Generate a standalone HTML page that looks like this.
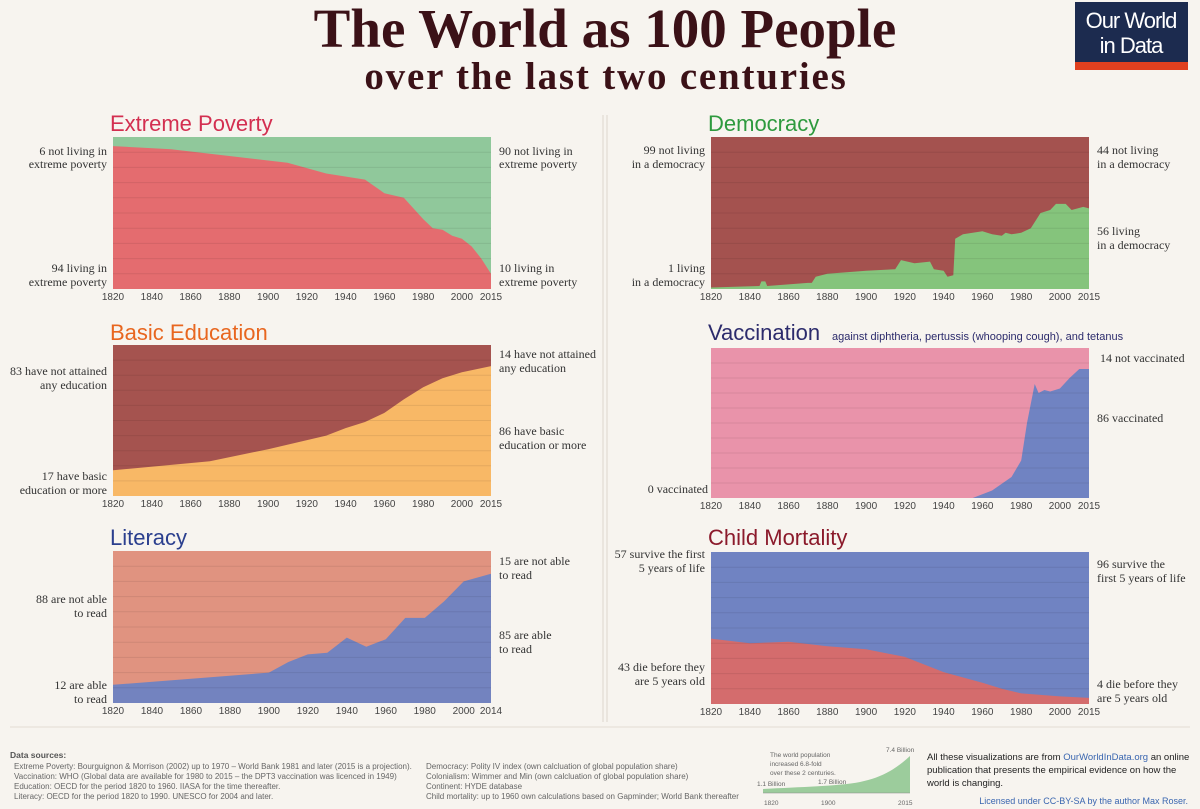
<!DOCTYPE html>
<html><head><meta charset="utf-8"><style>
html,body{margin:0;padding:0;background:#f7f4ef;}
svg{display:block;font-family:"Liberation Sans",sans-serif;}
.lab{font-family:"Liberation Serif",serif;font-size:12px;fill:#333;}
.tk{font-size:10px;fill:#444;}
.st{font-size:22px;}
.fs{font-size:8px;fill:#666;}
</style></head><body>
<svg width="1200" height="809" viewBox="0 0 1200 809" xmlns="http://www.w3.org/2000/svg">
<rect width="1200" height="809" fill="#f7f4ef"/>
<text x="605" y="47" text-anchor="middle" font-family="Liberation Serif,serif" font-weight="bold" font-size="55" fill="#3b1117">The World as 100 People</text>
<text x="606" y="89" text-anchor="middle" font-family="Liberation Serif,serif" font-weight="bold" font-size="39" letter-spacing="1.8" fill="#3b1117">over the last two centuries</text>
<rect x="1075" y="2" width="113" height="60" fill="#1c2b4f"/>
<rect x="1075" y="62" width="113" height="8" fill="#e0401f"/>
<text x="1131" y="28" text-anchor="middle" font-size="22" fill="#fff" letter-spacing="-1">Our World</text>
<text x="1131" y="53" text-anchor="middle" font-size="22" fill="#fff" letter-spacing="-1">in Data</text>
<line x1="603" y1="115" x2="603" y2="722" stroke="#ddd6cc" stroke-width="1"/>
<line x1="607" y1="115" x2="607" y2="722" stroke="#ddd6cc" stroke-width="1"/>
<line x1="10" y1="727" x2="1190" y2="727" stroke="#e3ddd3" stroke-width="1"/>
<g id="charts"></g>

<text x="110" y="131" class="st" fill="#d32f50">Extreme Poverty</text>
<text x="110" y="340" class="st" fill="#e8661f">Basic Education</text>
<text x="110" y="545" class="st" fill="#2b3f8e">Literacy</text>
<text x="708" y="131" class="st" fill="#2e9a3e">Democracy</text>
<text x="708" y="340" class="st" fill="#2c2b6c">Vaccination</text>
<text x="832" y="340" font-size="11" fill="#2c2b6c">against diphtheria, pertussis (whooping cough), and tetanus</text>
<text x="708" y="545" class="st" fill="#8b1a2b">Child Mortality</text>

<g class="lab">
<text x="107" y="155" text-anchor="end">6 not living in</text><text x="107" y="168" text-anchor="end">extreme poverty</text>
<text x="107" y="272" text-anchor="end">94 living in</text><text x="107" y="286" text-anchor="end">extreme poverty</text>
<text x="499" y="155">90 not living in</text><text x="499" y="168">extreme poverty</text>
<text x="499" y="272">10 living in</text><text x="499" y="286">extreme poverty</text>
<text x="107" y="375" text-anchor="end">83 have not attained</text><text x="107" y="389" text-anchor="end">any education</text>
<text x="107" y="480" text-anchor="end">17 have basic</text><text x="107" y="494" text-anchor="end">education or more</text>
<text x="499" y="358">14 have not attained</text><text x="499" y="372">any education</text>
<text x="499" y="435">86 have basic</text><text x="499" y="449">education or more</text>
<text x="107" y="603" text-anchor="end">88 are not able</text><text x="107" y="617" text-anchor="end">to read</text>
<text x="107" y="689" text-anchor="end">12 are able</text><text x="107" y="703" text-anchor="end">to read</text>
<text x="499" y="565">15 are not able</text><text x="499" y="579">to read</text>
<text x="499" y="639">85 are able</text><text x="499" y="653">to read</text>
<text x="705" y="154" text-anchor="end">99 not living</text><text x="705" y="168" text-anchor="end">in a democracy</text>
<text x="705" y="272" text-anchor="end">1 living</text><text x="705" y="286" text-anchor="end">in a democracy</text>
<text x="1097" y="154">44 not living</text><text x="1097" y="168">in a democracy</text>
<text x="1097" y="235">56 living</text><text x="1097" y="249">in a democracy</text>
<text x="708" y="493" text-anchor="end">0 vaccinated</text>
<text x="1100" y="362">14 not vaccinated</text>
<text x="1097" y="422">86 vaccinated</text>
<text x="705" y="558" text-anchor="end">57 survive the first</text><text x="705" y="572" text-anchor="end">5 years of life</text>
<text x="705" y="671" text-anchor="end">43 die before they</text><text x="705" y="685" text-anchor="end">are 5 years old</text>
<text x="1097" y="568">96 survive the</text><text x="1097" y="582">first 5 years of life</text>
<text x="1097" y="688">4 die before they</text><text x="1097" y="702">are 5 years old</text>
</g>

<text x="10" y="758" font-size="8.5" font-weight="bold" fill="#555">Data sources:</text>
<g class="fs">
<text x="14" y="769">Extreme Poverty: Bourguignon &amp; Morrison (2002) up to 1970 – World Bank 1981 and later (2015 is a projection).</text>
<text x="14" y="779">Vaccination: WHO (Global data are available for 1980 to 2015 – the DPT3 vaccination was licenced in 1949)</text>
<text x="14" y="789">Education: OECD for the period 1820 to 1960. IIASA for the time thereafter.</text>
<text x="14" y="799">Literacy: OECD for the period 1820 to 1990. UNESCO for 2004 and later.</text>
<text x="426" y="769">Democracy: Polity IV index (own calcluation of global population share)</text>
<text x="426" y="779">Colonialism: Wimmer and Min (own calcluation of global population share)</text>
<text x="426" y="789">Continent: HYDE database</text>
<text x="426" y="799">Child mortality: up to 1960 own calculations based on Gapminder; World Bank thereafter</text>
</g>
<path d="M763 793 L763 789 C800 787 840 786 860 782 C880 778 895 770 910 756 L910 793 Z" fill="#9ccc9c"/>
<line x1="763" y1="793" x2="910" y2="793" stroke="#888" stroke-width="0.6"/>
<g font-size="6.5" fill="#666">
<text x="770" y="757">The world population</text><text x="770" y="766">increased 6.8-fold</text><text x="770" y="775">over these 2 centuries.</text>
<text x="886" y="752">7.4 Billion</text><text x="757" y="786">1.1 Billion</text><text x="818" y="784">1.7 Billion</text>
<text x="764" y="805">1820</text><text x="821" y="805">1900</text><text x="898" y="805">2015</text>
</g>
<g font-size="9.5" fill="#222">
<text x="927" y="760">All these visualizations are from <tspan fill="#3a66b0">OurWorldInData.org</tspan> an online</text>
<text x="927" y="773">publication that presents the empirical evidence on how the</text>
<text x="927" y="786">world is changing.</text>
</g>
<text x="1188" y="804" text-anchor="end" font-size="9" fill="#3a66b0">Licensed under CC-BY-SA by the author Max Roser.</text>
</svg>
<script>
(function(){
var NS="http://www.w3.org/2000/svg",g=document.getElementById('charts');
function el(n,a){var e=document.createElementNS(NS,n);for(var k in a)e.setAttribute(k,a[k]);g.appendChild(e);return e;}
function chart(x0,x1,y0,y1,y2,topC,botC,data,ticks,lastLabel){
 el('rect',{x:x0,y:y0,width:x1-x0,height:y1-y0,fill:topC});
 var d='M'+x0+' '+y1;
 data.forEach(function(p){var x=x0+(p[0]-1820)/(y2-1820)*(x1-x0);var y=y1-p[1]/100*(y1-y0);d+=' L'+x.toFixed(1)+' '+y.toFixed(1);});
 d+=' L'+x1+' '+y1+' Z';
 el('path',{d:d,fill:botC});
 for(var i=1;i<10;i++){var yy=y0+i*(y1-y0)/10;el('line',{x1:x0,x2:x1,y1:yy,y2:yy,stroke:'rgba(0,0,0,0.08)','stroke-width':1});}
 for(var t=1820;t<=2000;t+=20){var tx=x0+(t-1820)/(y2-1820)*(x1-x0);var e=el('text',{x:tx,y:y1+11,'text-anchor':'middle','class':'tk'});e.textContent=t;}
 var e=el('text',{x:x1,y:y1+11,'text-anchor':'middle','class':'tk'});e.textContent=lastLabel;
}
chart(113,491,137,289,2015,'#90c89b','#e46c6f',[[1820,94],[1850,92],[1870,89],[1910,83],[1930,76],[1950,72],[1960,63],[1970,60],[1980,46],[1985,40],[1990,39],[1995,35],[2000,33],[2005,28],[2010,20],[2015,10]],0,'2015');
chart(113,491,345,496,2015,'#a5534f','#f8b866',[[1820,17],[1870,23],[1900,31],[1930,40],[1940,45],[1950,49],[1960,55],[1970,64],[1980,72],[1990,78],[2000,82],[2015,86]],0,'2015');
chart(113,491,551,703,2014,'#e09380','#7383bf',[[1820,12],[1870,17],[1900,20],[1910,27],[1920,32],[1930,33],[1940,43],[1950,37],[1960,42],[1970,56],[1980,56],[1990,67],[2000,80],[2014,85]],0,'2014');
chart(711,1089,137,289,2015,'#a4524f','#85c47c',[[1820,1],[1845,2],[1846,5],[1848,5],[1849,2],[1870,4],[1872,4],[1874,8],[1880,10],[1900,12],[1915,13],[1918,19],[1925,17],[1933,18],[1935,13],[1940,12],[1942,8],[1945,9],[1946,33],[1950,36],[1960,38],[1965,36],[1970,35],[1972,37],[1975,36],[1980,37],[1985,40],[1990,50],[1995,52],[1998,56],[2003,56],[2006,52],[2012,54],[2015,53]],0,'2015');
chart(711,1089,348,498,2015,'#e993aa','#7083c2',[[1820,0],[1955,0],[1965,5],[1975,14],[1980,25],[1983,50],[1987,76],[1989,70],[1992,72],[1995,71],[2000,73],[2005,80],[2010,86],[2015,86]],0,'2015');
chart(711,1089,552,704,2015,'#7083c2','#d46c6d',[[1820,43],[1840,40],[1860,41],[1880,38],[1900,36],[1920,31],[1940,21],[1960,14],[1970,10],[1980,7],[2000,5],[2015,4]],0,'2015');
})();
</script>
</body></html>
